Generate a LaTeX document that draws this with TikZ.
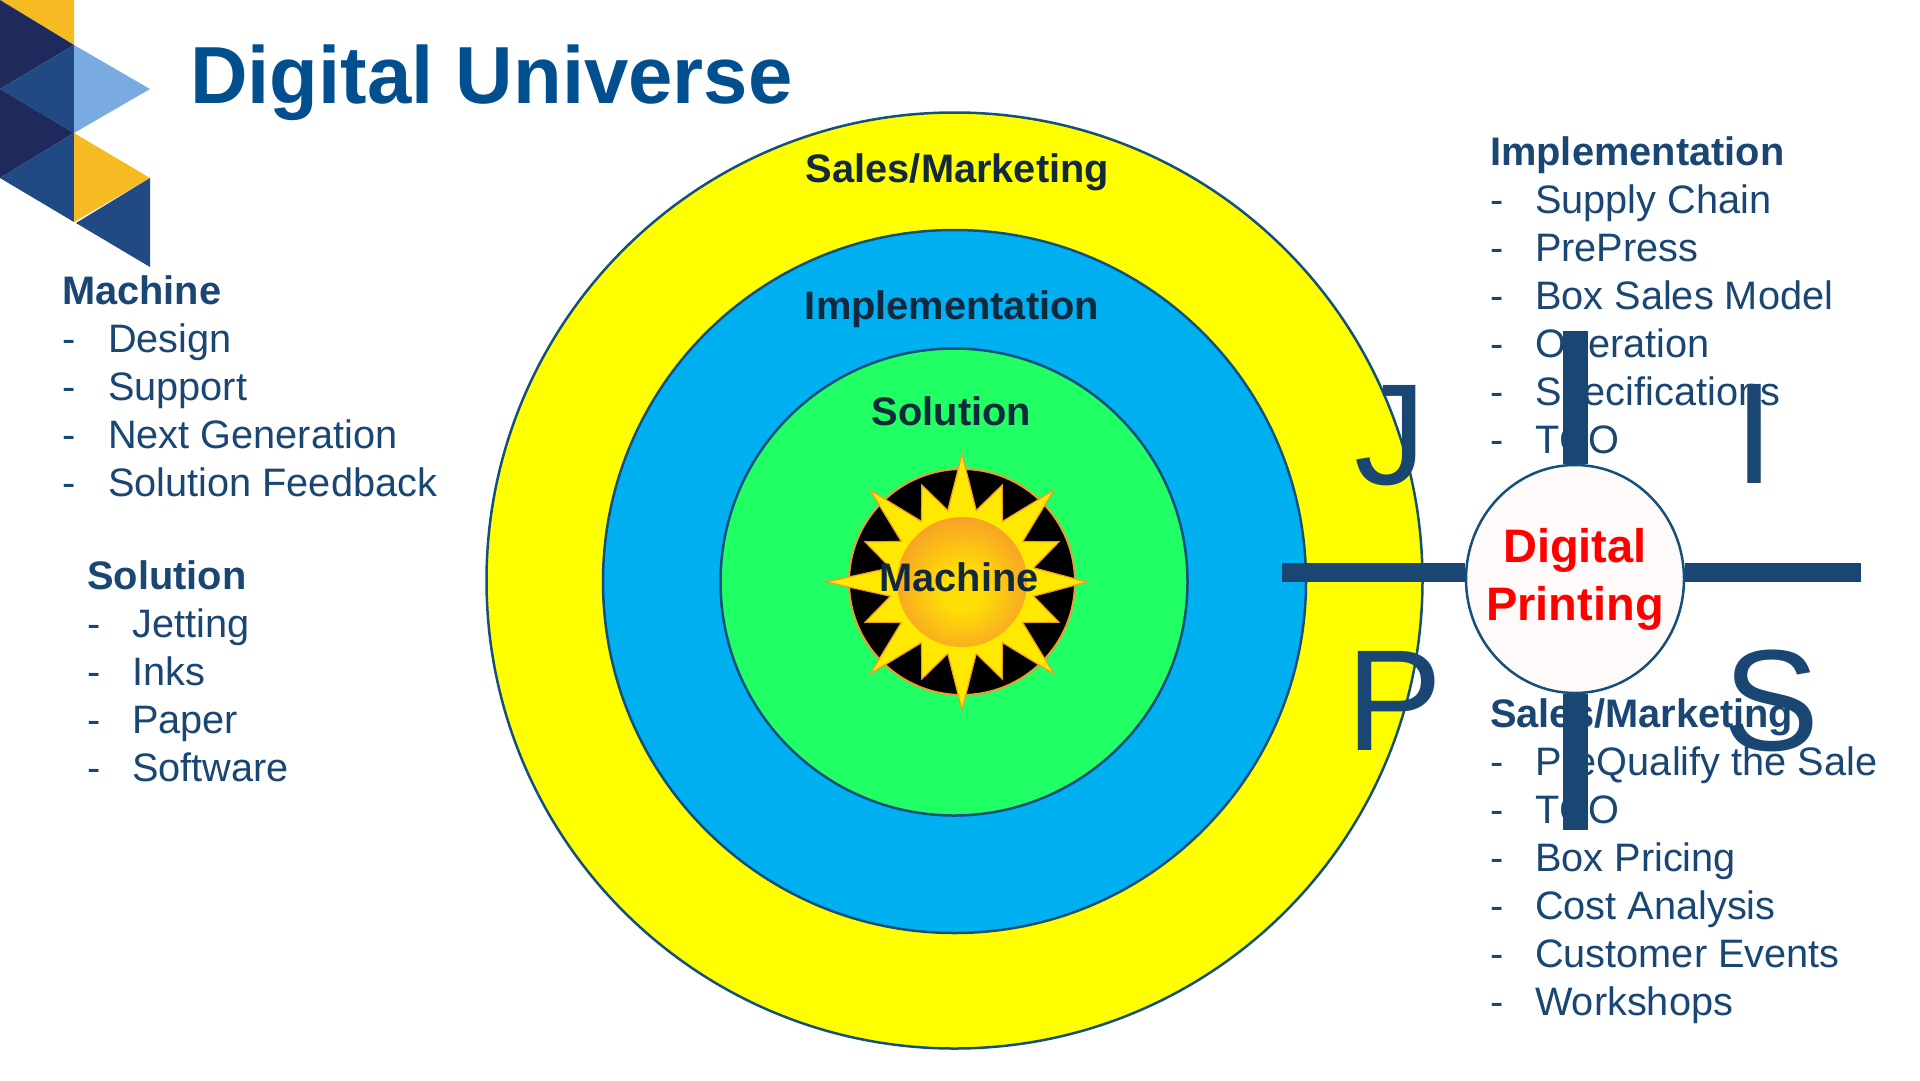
\documentclass[tikz,border=0pt]{standalone}
\usepackage{fontspec}
\setmainfont{Liberation Sans}
\usetikzlibrary{shapes.geometric}
\definecolor{navy}{HTML}{1A4674}
\definecolor{titleblue}{HTML}{024F90}
\definecolor{ink}{HTML}{12283C}
\definecolor{ringline}{HTML}{15507A}
\definecolor{ringY}{HTML}{FFFF00}
\definecolor{ringB}{HTML}{00B0F0}
\definecolor{ringG}{HTML}{20FF64}
\definecolor{logoGold}{HTML}{F6BB22}
\definecolor{logoDark}{HTML}{1F2A5C}
\definecolor{logoMid}{HTML}{214A84}
\definecolor{logoLight}{HTML}{7AABE0}
\definecolor{sunEdge}{HTML}{EE9A2E}
\definecolor{sunFill}{HTML}{FFE900}
\definecolor{sunCore}{HTML}{FFDD05}
\definecolor{sunRim}{HTML}{F7A226}
\pgfdeclareradialshading{sunglow}{\pgfpoint{0bp}{-4bp}}{color(0bp)=(sunCore); color(8bp)=(sunCore); color(27bp)=(sunRim); color(50bp)=(sunRim)}
\tikzset{
  ring/.style={circle,draw=ringline,line width=2.5pt,inner sep=0pt},
  bodytxt/.style={anchor=base west,inner sep=0pt,text=navy,font=\fontsize{39.7}{39.7}\selectfont},
  headtxt/.style={anchor=base west,inner sep=0pt,text=navy,font=\fontsize{39.8}{39.8}\selectfont\bfseries},
  ringtxt/.style={anchor=base,inner sep=0pt,text=ink,font=\fontsize{39.8}{39.8}\selectfont\bfseries},
  bigletter/.style={anchor=base west,inner sep=0pt,text=navy,font=\fontsize{144}{144}\selectfont},
  bar/.style={draw=navy,line width=19pt},
  vbar/.style={draw=navy,line width=25pt},
}
\begin{document}
\begin{tikzpicture}[x=1pt,y=-1pt]
\useasboundingbox (0,0) rectangle (1920,1080);
\fill[white] (0,0) rectangle (1920,1080);
% logo
\fill[logoGold] (0,0) -- (74,0) -- (74,45) -- cycle;
\fill[logoDark] (0,0) -- (74,45) -- (0,89) -- cycle;
\fill[logoMid] (74,45) -- (74,133) -- (0,89) -- cycle;
\fill[logoLight] (74,45) -- (150,89) -- (74,133) -- cycle;
\fill[logoDark] (0,89) -- (74,133) -- (0,178) -- cycle;
\fill[logoMid] (74,133) -- (74,222) -- (0,178) -- cycle;
\fill[logoGold] (74,133) -- (150,178) -- (74,222) -- cycle;
\fill[logoMid] (150,178) -- (150,267) -- (76,223) -- cycle;
% title
\node[anchor=base west,inner sep=0pt,text=titleblue,font=\fontsize{81}{81}\selectfont\bfseries] (title) at (190,103) {\scalebox{0.984}[1]{Digital Universe}};
% rings
\node[ring,fill=ringY,minimum size=936pt] (ringS) at (954.5,580.5) {};
\node[ring,fill=ringB,minimum size=703pt] (ringI) at (954.5,581.5) {};
\node[ring,fill=ringG,minimum size=467pt] (ringM) at (954,582) {};
% sun
\begin{scope}[shift={(962,582)}]
  \fill[black,draw=sunEdge,line width=2pt] (0,0) circle (113);
  \draw[fill=sunFill,draw=sunEdge,line width=1.2pt,line join=miter]
    (-45:130) \foreach \a/\r in {0/125,45/130,90/128,135/130,180/136,225/130,270/128,315/130}{
      -- (\a-33.75:73) -- (\a-22.5:105) -- (\a-11.25:73) -- (\a:\r)
    } -- cycle;
  \shade[shading=sunglow] (0,0) circle (65);
\end{scope}
% ring labels
\node[ringtxt] (lblS) at (957.5,182.5) {Sales/Marketing};
\node[ringtxt] (lblI) at (952,319.5) {Implementation};
\node[ringtxt] (lblP) at (951.5,425) {Solution};
\node[ringtxt] (lblM) at (959,591.5) {Machine};
% left lists
\node[headtxt] (mh) at (62,304) {Machine};
\foreach \n/\y/\t in {m1/352.7/Design,m2/400.7/Support,m3/448.7/Next Generation,m4/496.7/Solution Feedback}{
  \node[bodytxt] (\n d) at (62,\y) {-};
  \node[bodytxt] (\n) at (108,\y) {\t};
}
\node[headtxt] (sh) at (87,589) {Solution};
\foreach \n/\y/\t in {s1/637.7/Jetting,s2/685.7/Inks,s3/733.7/Paper,s4/781.7/Software}{
  \node[bodytxt] (\n d) at (87,\y) {-};
  \node[bodytxt] (\n) at (132,\y) {\t};
}
% right lists
\node[headtxt] (ih) at (1490,165.5) {Implementation};
\foreach \n/\y/\t in {i1/213/Supply Chain,i2/261/PrePress,i3/309/Box Sales Model,i4/357/Operation,i5/405/Specifications,i6/453/TCO}{
  \node[bodytxt] (\n d) at (1490,\y) {-};
  \node[bodytxt] (\n) at (1535,\y) {\t};
}
\node[headtxt] (kh) at (1490,727) {Sales/Marketing};
\foreach \n/\y/\t in {k1/775/PreQualify the Sale,k2/823/TCO,k3/871/Box Pricing,k4/919/Cost Analysis,k5/967/Customer Events,k6/1015.5/Workshops}{
  \node[bodytxt] (\n d) at (1490,\y) {-};
  \node[bodytxt] (\n) at (1535,\y) {\t};
}
% big letters
\node[bigletter] (J) at (1354,484) {J};
\node[bigletter] (I) at (1734,483.5) {I};
\node[bigletter] (P) at (1346,750.5) {P};
\node[bigletter] (S) at (1723,750) {S};
% centre
\node[ellipse,draw=ringline,line width=2.5pt,fill=white!98!red,minimum width=218pt,minimum height=228pt,inner sep=0pt] (dp) at (1575,579) {};
\node[align=center,inner sep=0pt,text=red,font=\fontsize{47}{58}\selectfont\bfseries] (dptxt) at (1575,579.8) {Digital\\Printing};
\coordinate (barL) at (1282,572.5);
\coordinate (barR) at (1861,572.5);
\coordinate (barT) at (1575,331);
\coordinate (barB) at (1575,830);
\draw[bar] (barL) -- (barL -| dp.west);
\draw[bar] (barR) -- (barR -| dp.east);
\draw[vbar] (barT) -- (dp.north);
\draw[vbar] (barB) -- (dp.south);
\end{tikzpicture}
\end{document}
